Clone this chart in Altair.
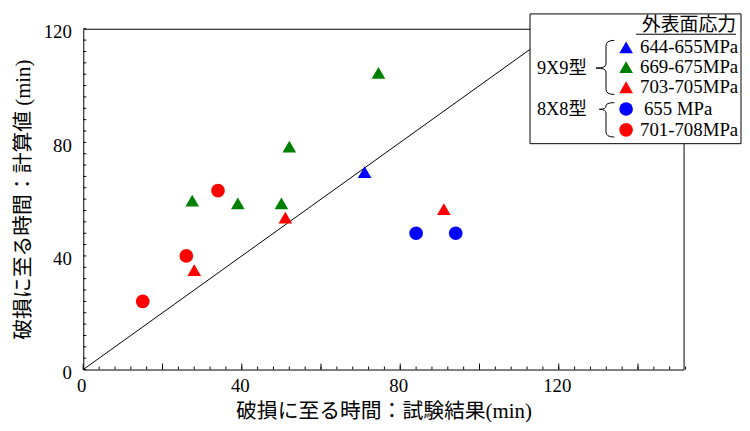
import altair as alt
import pandas as pd

FONT = "Liberation Serif, Noto Sans CJK JP"
SERIF = "Liberation Serif"
W, H = 606, 344

# ---- data -------------------------------------------------------------
series_names = ["9X9 644-655MPa", "9X9 669-675MPa", "9X9 703-705MPa",
                "8X8 655 MPa", "8X8 701-708MPa"]
series_colors = ["#0000FF", "#008000", "#FF0000", "#0000FF", "#FF0000"]
series_shapes = ["triangle-up", "triangle-up", "triangle-up", "circle", "circle"]

blue_tri_x = [71]
blue_tri_y = [69.5]
green_tri_x = [27.5, 39, 50, 52, 74.5]
green_tri_y = [59.5, 58.5, 58.5, 78.5, 104.5]
red_tri_x = [28, 51, 91]
red_tri_y = [35, 53.5, 56.5]
blue_cir_x = [84, 94]
blue_cir_y = [48, 48]
red_cir_x = [15, 26, 34]
red_cir_y = [24, 40, 63]

line_x = [0, 120]
line_y = [0, 120]

x_labels = [0, 40, 80, 120]
y_labels = [0, 40, 80, 120]
x_major = list(range(0, 153, 20))
x_minor = list(range(0, 153, 4))
y_minor = list(range(0, 121, 4))

x_title = "破損に至る時間：試験結果(min)"
y_title = "破損に至る時間：計算値 (min)"
legend_title = "外表面応力"
legend_labels = ["644-655MPa", "669-675MPa", "703-705MPa", "655 MPa", "701-708MPa"]
group_labels = ["9X9型", "8X8型"]

# ---- tables -----------------------------------------------------------
xs_all = [blue_tri_x, green_tri_x, red_tri_x, blue_cir_x, red_cir_x]
ys_all = [blue_tri_y, green_tri_y, red_tri_y, blue_cir_y, red_cir_y]
rows = []
for name, xv, yv in zip(series_names, xs_all, ys_all):
    for a, b in zip(xv, yv):
        rows.append({"x": a, "y": b, "series": name})
pts = pd.DataFrame(rows)
line_df = pd.DataFrame({"x": line_x, "y": line_y})
xminor_df = pd.DataFrame({"x": x_minor})
xmajor_df = pd.DataFrame({"x": x_major})
yminor_df = pd.DataFrame({"y": y_minor})
one = pd.DataFrame({"k": [0]})

xs = alt.Scale(domain=[0, 151.5], nice=False, zero=False)
ys = alt.Scale(domain=[0, 120], nice=False, zero=False)

x_axis = alt.Axis(values=x_labels, ticks=False, domain=False, grid=False, labelFlush=False,
                  labelFont=SERIF, labelFontSize=19, labelColor="black", labelPadding=7,
                  labelOffset=-2,
                  title=x_title, titleFont=FONT, titleFontSize=21, titleFontWeight="normal",
                  titleColor="black", titleX=W / 2, titleY=42, titleAlign="center",
                  titleBaseline="middle")
y_axis = alt.Axis(values=y_labels, ticks=False, domain=False, grid=False, labelFlush=False,
                  labelFont=SERIF, labelFontSize=19, labelColor="black", labelPadding=12,
                  labelOffset=3,
                  title=y_title, titleFont=FONT, titleFontSize=21, titleFontWeight="normal",
                  titleColor="black", titleX=-60, titleY=H / 2, titleAngle=-90,
                  titleAlign="center", titleBaseline="middle")

X = alt.X("x:Q", scale=xs, axis=x_axis)
Y = alt.Y("y:Q", scale=ys, axis=y_axis)

diag = alt.Chart(line_df).mark_line(color="black", strokeWidth=1).encode(x=X, y=Y)

points = alt.Chart(pts).mark_point(filled=True, size=190, opacity=1).encode(
    x=X, y=Y,
    color=alt.Color("series:N", scale=alt.Scale(domain=series_names, range=series_colors), legend=None),
    shape=alt.Shape("series:N", scale=alt.Scale(domain=series_names, range=series_shapes), legend=None),
)

xt_minor = alt.Chart(xminor_df).mark_rule(color="black", strokeWidth=1).encode(
    x=X, y=alt.value(H), y2=alt.value(H - 3))
xt_major = alt.Chart(xmajor_df).mark_rule(color="black", strokeWidth=1).encode(
    x=X, y=alt.value(H), y2=alt.value(H - 6))
yt_minor = alt.Chart(yminor_df).mark_rule(color="black", strokeWidth=1).encode(
    y=Y, x=alt.value(0), x2=alt.value(3))

# ---- manual legend ----------------------------------------------------
layers = [diag, points, xt_minor, xt_major, yt_minor]

box = alt.Chart(one).mark_rect(fill="white", stroke="black", strokeWidth=1).encode(
    x=alt.value(451), x2=alt.value(664), y=alt.value(-15), y2=alt.value(116))
layers.append(box)

ltitle = alt.Chart(one).mark_text(align="right", baseline="middle", font=FONT,
                                  fontSize=19, color="black").encode(
    x=alt.value(659), y=alt.value(-4), text=alt.value(legend_title))
uline = alt.Chart(one).mark_rule(color="black", strokeWidth=1).encode(
    x=alt.value(558), x2=alt.value(659), y=alt.value(5.5))
layers += [ltitle, uline]

row_y = [18.7, 38.7, 59, 81, 102]
for i, lab in enumerate(legend_labels):
    sym = alt.Chart(one).mark_point(filled=True, size=190, opacity=1,
                                    shape=series_shapes[i], color=series_colors[i]).encode(
        x=alt.value(548), y=alt.value(row_y[i]))
    txt = alt.Chart(one).mark_text(align="left", baseline="middle", font=SERIF,
                                   fontSize=19, color="black").encode(
        x=alt.value(562 if i != 3 else 566), y=alt.value(row_y[i]), text=alt.value(lab))
    layers += [sym, txt]

for lab, gy in zip(group_labels, [39.7, 81.3]):
    layers.append(alt.Chart(one).mark_text(align="left", baseline="middle", font=FONT,
                                           fontSize=18.5, color="black").encode(
        x=alt.value(458), y=alt.value(gy), text=alt.value(lab)))

brace1 = "M0.3,-1 Q0,-1 0,-0.8 L0,-0.14 Q0,0 -0.36,0 Q0,0 0,0.14 L0,0.76 Q0,0.95 0.3,0.95"
brace2 = "M0.3,-0.24 Q0,-0.24 0,-0.12 Q0,0 -0.24,0 Q0,0 0,0.14 L0,0.82 Q0,1 0.3,1"
for path, by in [(brace1, 39.7), (brace2, 81.3)]:
    layers.append(alt.Chart(one).mark_point(shape=path, filled=False, size=3136, opacity=1,
                                            stroke="black", strokeWidth=1).encode(
        x=alt.value(527.7), y=alt.value(by)))

chart = alt.layer(*layers).properties(
    width=W, height=H,
    padding={"left": 76, "top": 19, "right": 59, "bottom": 51},
    autosize=alt.AutoSizeParams(type="none"),
).configure_view(stroke="black", strokeWidth=1)

chart.save("out.html", embed_options={"renderer": "svg", "actions": False})
